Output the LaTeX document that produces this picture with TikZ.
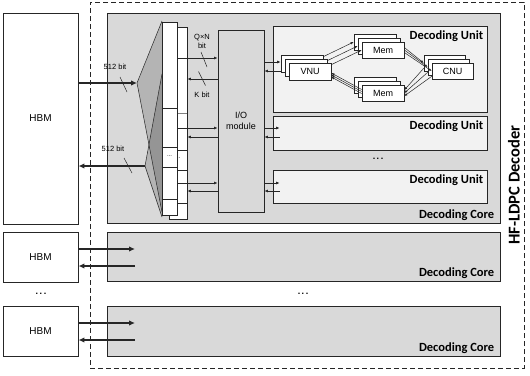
\documentclass[tikz,border=0pt]{standalone}
\usepackage{fontspec}
\setmainfont{Liberation Sans}
\newfontfamily\calibri{Carlito}
\usetikzlibrary{arrows.meta}
\definecolor{CoreFill}{HTML}{D9D9D9}
\definecolor{UnitFill}{HTML}{F2F2F2}
\definecolor{Ink}{HTML}{262626}
\definecolor{CellLine}{HTML}{808080}

\tikzset{
  box/.style={draw=Ink,line width=0.9pt,inner sep=0pt,fill=white},
  core/.style={box,fill=CoreFill},
  unit/.style={box,line width=0.8pt,fill=UnitFill},
  pe/.style={box,line width=0.7pt,minimum width=42pt,minimum height=16pt,font=\fontsize{9}{10}\selectfont},
  tag/.style={font=\calibri\bfseries\fontsize{12.5}{13}\selectfont,inner sep=0pt},
  dots/.style={font=\bfseries\fontsize{9}{10}\selectfont,inner sep=0pt},
  tiny/.style={font=\fontsize{7.5}{8.5}\selectfont,inner sep=0pt,align=center},
  bus/.style={line width=1.6pt,Ink,-{Latex[length=6pt,width=5.5pt]}},
  sig/.style={line width=0.7pt,Ink,-{Latex[length=3.5pt,width=3pt]}},
  link/.style={line width=0.5pt,Ink,-{Latex[length=3pt,width=2.5pt]}},
  cell/.style={Ink,line width=0.5pt},
}

\begin{document}
\begin{tikzpicture}[x=1pt,y=-1pt]
\useasboundingbox (0,0) rectangle (530,375);
\fill[white] (0,0) rectangle (530,375);

% outer decoder frame
\node[draw=Ink,line width=0.9pt,dash pattern=on 5pt off 3pt,minimum width=434pt,minimum height=366pt,inner sep=0pt] (decoder) at (307,185) {};
\node[tag,rotate=90,font=\calibri\bfseries\fontsize{16.5}{17}\selectfont] (declbl) at ([xshift=-10.5pt]decoder.east) {HF-LDPC Decoder};

% memories
\node[box,minimum width=75pt,minimum height=211pt,font=\fontsize{10}{11}\selectfont] (hbmA) at (40.5,118.5) {HBM};
\node[box,minimum width=75pt,minimum height=50pt,font=\fontsize{10}{11}\selectfont] (hbmB) at (40.5,257) {HBM};
\node[box,minimum width=75pt,minimum height=50pt,font=\fontsize{10}{11}\selectfont] (hbmC) at (40.5,331) {HBM};
\node[dots] (dotsH) at (41,294) {.\,.\,.};

% decoding cores
\node[core,minimum width=393pt,minimum height=210pt] (coreA) at (303.5,118) {};
\node[core,minimum width=393pt,minimum height=49pt] (coreB) at (303.5,256.5) {};
\node[core,minimum width=393pt,minimum height=50pt] (coreC) at (303.5,331) {};
\node[dots] (dotsC) at (303,294) {.\,.\,.};
\foreach \c in {coreA,coreB,coreC}
  \node[tag,anchor=south east] (\c-lbl) at ([xshift=-6pt,yshift=3pt]\c.south east) {Decoding Core};

% 512-bit switch
\coordinate (muxA) at (137,83);
\coordinate (muxB) at (145,166);
\fill[black,fill opacity=0.17] (muxA) -- (162,21) -- (162,212) -- cycle;
\fill[black,fill opacity=0.17] (muxB) -- (162,74) -- (162,217) -- cycle;
\draw[Ink,line width=0.5pt] (muxA) -- (162,21) (muxA) -- (162,212);
\draw[Ink,line width=0.5pt] (muxB) -- (162,74) (muxB) -- (162,217);

% buffer columns
\node[box,line width=0.7pt,minimum width=18pt,minimum height=192pt] (bufR) at (178,123) {};
\foreach \y in {150,170,203} \draw[cell] (bufR.west |- 0,\y) -- (bufR.east |- 0,\y);
\draw[CellLine,line width=1pt] (bufR.west |- 0,113) -- (bufR.east |- 0,113);
\node[tiny,font=\fontsize{6}{6}\selectfont] (bufRdots) at (178,158) {...};
\node[box,line width=0.7pt,minimum width=15pt,minimum height=193pt] (bufF) at (169.5,118.5) {};
\foreach \y in {108,147,167,199} \draw[cell] (bufF.west |- 0,\y) -- (bufF.east |- 0,\y);
\node[tiny,font=\fontsize{6}{6}\selectfont] (bufFdots) at (169.5,156) {...};

% I/O module
\node[core,minimum width=46pt,minimum height=182pt,align=center,font=\fontsize{9}{11}\selectfont] (io) at (241,121) {I/O\\module};

% decoding units
\node[unit,minimum width=214pt,minimum height=86pt] (duA) at (380,69) {};
\node[unit,minimum width=214pt,minimum height=34pt] (duB) at (380,133) {};
\node[unit,minimum width=214pt,minimum height=33pt] (duC) at (380,186.5) {};
\node[dots] (dotsU) at (378,159) {.\,.\,.};
\foreach \u in {duA,duB,duC}
  \node[tag,anchor=north east] (\u-lbl) at ([xshift=-4pt,yshift=-5pt]\u.north east) {Decoding Unit};

% processing elements
\foreach \k/\d/\t in {3/8/{},2/4/{},1/0/VNU}
  \node[pe,minimum height=17pt,xshift=-\d pt,yshift=\d pt] (vnu\k) at (310,71.5) {\t};
\foreach \k/\d/\t in {3/8/{},2/4/{},1/0/Mem}
  \node[pe,xshift=-\d pt,yshift=\d pt] (memT\k) at (383,50) {\t};
\foreach \k/\d/\t in {3/8/{},2/4/{},1/0/Mem}
  \node[pe,xshift=-\d pt,yshift=\d pt] (memB\k) at (383,93) {\t};
\foreach \k/\d/\t in {3/8/{},2/4/{},1/0/CNU}
  \node[pe,minimum width=41pt,xshift=-\d pt,yshift=\d pt] (cnu\k) at (452.5,71) {\t};

% message loops
\foreach \k in {3,2,1}
  \draw[link] ([yshift=-2pt]vnu\k.north east) -- (memT\k.west);
\foreach \k/\o in {3/2.5,2/0,1/-2.5}
  \draw[link] ([yshift=\o pt]memT1.east) -- (cnu\k.west);
\foreach \k/\o in {3/3,2/0,1/-3}
  \draw[link] ([yshift=3pt]cnu\k.south west) -- ([yshift=\o pt]memB1.east);
\foreach \o in {2,0,-2}
  \draw[link] ([yshift=\o pt+1.5pt]memB1.west) -- ([yshift=\o pt-3.5pt]vnu1.east);

% port rows
\foreach \n/\y in {a/58,b/79,c/128,d/137,e/183,f/191,g/62,h/71}
  \coordinate (row\n) at (0,\y);
\coordinate (inB) at ([xshift=7pt]duB.west);
\coordinate (inC) at ([xshift=7pt]duC.west);

% buffer <-> I/O
\draw[sig] (bufF.east |- rowa) -- (io.west |- rowa);
\draw[sig] (io.west |- rowb) -- (bufR.east |- rowb);
\draw[sig] (bufF.east |- rowc) -- (io.west |- rowc);
\draw[sig] (io.west |- rowd) -- (bufR.east |- rowd);
\draw[sig] (bufF.east |- rowe) -- (io.west |- rowe);
\draw[sig] (io.west |- rowf) -- (bufR.east |- rowf);

% I/O <-> units
\draw[sig] (io.east |- rowg) -- (vnu3.west |- rowg);
\draw[sig] (vnu3.west |- rowh) -- (io.east |- rowh);
\draw[sig] (io.east |- rowc) -- (inB |- rowc);
\draw[sig] (inB |- rowd) -- (io.east |- rowd);
\draw[sig] (io.east |- rowe) -- (inC |- rowe);
\draw[sig] (inC |- rowf) -- (io.east |- rowf);

% width labels
\coordinate (slashQ) at (204,59.5);
\coordinate (slashK) at (202,78.5);
\draw[cell] ([shift={(-3,-7.5)}]slashQ) -- ([shift={(3,7.5)}]slashQ);
\draw[cell] ([shift={(-3.5,-7)}]slashK) -- ([shift={(3.5,7)}]slashK);
\node[tiny] (qnlbl) at (202,41.5) {Q×N\\bit};
\node[tiny] (klbl) at (202,95) {K bit};

% HBM buses
\coordinate (tapB) at (135,249);
\coordinate (tapB2) at (135,266);
\coordinate (tapC) at (135,323);
\coordinate (tapC2) at (135,340);
\draw[bus] (hbmA.east |- muxA) -- (muxA);
\draw[bus] (muxB) -- (hbmA.east |- muxB);
\draw[bus] (hbmB.east |- tapB) -- (tapB);
\draw[bus] (tapB2) -- (hbmB.east |- tapB2);
\draw[bus] (hbmC.east |- tapC) -- (tapC);
\draw[bus] (tapC2) -- (hbmC.east |- tapC2);
\coordinate (slashA) at (123.5,84.5);
\coordinate (slashB) at (128,165.5);
\draw[cell] ([shift={(-3.5,-7.5)}]slashA) -- ([shift={(3.5,7.5)}]slashA);
\draw[cell] ([shift={(-4,-7.5)}]slashB) -- ([shift={(4,7.5)}]slashB);
\node[tiny] (busAlbl) at (115,67) {512 bit};
\node[tiny] (busBlbl) at (113,149) {512 bit};
\end{tikzpicture}
\end{document}
